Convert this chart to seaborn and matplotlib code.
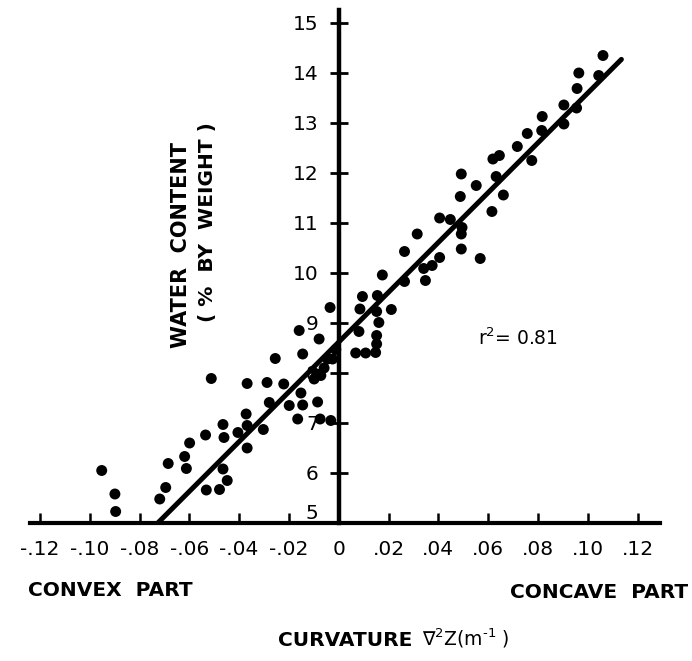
import matplotlib
matplotlib.use("Agg")
import matplotlib.pyplot as plt
import numpy as np
import pandas as pd
import seaborn as sns

# Curvature (m^-1) and water content (% by weight) on the convex side
curv_convex = [
    -0.0952, -0.0899, -0.0896, -0.0719, -0.0695, -0.0685, -0.0619, -0.0612,
    -0.0599, -0.0535, -0.0532, -0.0512, -0.0479, -0.0465, -0.0461, -0.0465,
    -0.0448, -0.0405, -0.0372, -0.0368, -0.0368, -0.0368, -0.0303, -0.0288,
    -0.0279, -0.0255, -0.0221, -0.0199, -0.0165, -0.0152, -0.0145, -0.0145,
    -0.0159, -0.0085, -0.0099, -0.0072, -0.0075, -0.0079, -0.0032, -0.0059,
    -0.0045, -0.0025, -0.0012, -0.0035, -0.0089,
]
water_convex = [
    6.05, 5.58, 5.23, 5.48, 5.71, 6.19, 6.33, 6.09,
    6.60, 6.76, 5.66, 7.89, 5.67, 6.97, 6.71, 6.08,
    5.85, 6.81, 7.18, 7.79, 6.95, 6.50, 6.87, 7.81,
    7.41, 8.29, 7.78, 7.35, 7.08, 7.60, 7.36, 8.38,
    8.85, 7.42, 7.88, 7.95, 7.08, 8.68, 7.05, 8.10,
    8.28, 8.28, 8.47, 9.31, 7.98,
]

# Same quantities on the concave side
curv_concave = [
    0.0068, 0.0108, 0.0081, 0.0085, 0.0095, 0.0155, 0.0152, 0.0161,
    0.0152, 0.0152, 0.0148, 0.0175, 0.0211, 0.0264, 0.0264, 0.0315,
    0.0348, 0.0341, 0.0375, 0.0405, 0.0405, 0.0448, 0.0495, 0.0492,
    0.0492, 0.0568, 0.0615, 0.0492, 0.0488, 0.0552, 0.0661, 0.0632,
    0.0619, 0.0645, 0.0717, 0.0757, 0.0775, 0.0815, 0.0817, 0.0904,
    0.0904, 0.0955, 0.0957, 0.0964, 0.1044, 0.1061,
]
water_concave = [
    8.40, 8.40, 8.83, 9.28, 9.53, 9.55, 9.23, 9.01,
    8.75, 8.58, 8.41, 9.96, 9.27, 10.43, 9.83, 10.78,
    9.85, 10.09, 10.15, 10.31, 11.10, 11.07, 10.91, 10.78,
    10.48, 10.29, 11.23, 11.98, 11.53, 11.75, 11.56, 11.93,
    12.28, 12.35, 12.53, 12.79, 12.25, 12.85, 13.13, 12.98,
    13.36, 13.30, 13.69, 14.00, 13.95, 14.35,
]

# Least-squares line
fit_slope = 49.8
fit_intercept = 8.62
fit_x = [-0.0725, 0.1135]
r_squared = 0.81

x_ticks = [-0.12, -0.10, -0.08, -0.06, -0.04, -0.02, 0.0,
           0.02, 0.04, 0.06, 0.08, 0.10, 0.12]
x_tick_labels = ["-.12", "-.10", "-.08", "-.06", "-.04", "-.02", "0",
                 ".02", ".04", ".06", ".08", ".10", ".12"]
y_ticks = [5, 6, 7, 8, 9, 10, 11, 12, 13, 14, 15]
y_tick_labels = ["5", "6", "7", "8", "9", "10", "11", "12", "13", "14", "15"]

points = pd.DataFrame({
    "curvature": curv_convex + curv_concave,
    "water": water_convex + water_concave,
})
fit_line = pd.DataFrame({
    "curvature": fit_x,
    "water": [fit_intercept + fit_slope * v for v in fit_x],
})

sns.set_theme(style="white")
plt.rcParams["font.family"] = ["DejaVu Sans"]
plt.rcParams["mathtext.fontset"] = "dejavusans"

W, H = 692, 661
fig = plt.figure(figsize=(W / 100, H / 100), dpi=100)
fig.patch.set_facecolor("white")
ax = fig.add_axes([30 / W, 138 / H, 630 / W, 513 / H])
ax.set_facecolor("white")

sns.lineplot(data=fit_line, x="curvature", y="water", color="black",
             linewidth=3.6, ax=ax, zorder=2, solid_capstyle="round")
sns.scatterplot(data=points, x="curvature", y="water", color="black",
                s=62, edgecolor="none", linewidth=0, ax=ax, zorder=4,
                legend=False)

ax.set_xlim(-0.124, 0.129)
ax.set_ylim(5.0, 15.26)

for side in ("top", "right"):
    ax.spines[side].set_visible(False)
ax.spines["left"].set_position(("data", 0))
ax.spines["left"].set_linewidth(3.2)
ax.spines["bottom"].set_linewidth(3.0)
ax.spines["left"].set_color("black")
ax.spines["bottom"].set_color("black")
ax.spines["left"].set_zorder(3)
ax.spines["bottom"].set_zorder(3)

ax.set_xticks(x_ticks, x_tick_labels)
ax.set_yticks(y_ticks, y_tick_labels)
ax.tick_params(axis="x", direction="in", length=7, width=1.8, pad=12,
               labelsize=14.5, colors="black", bottom=True)
ax.tick_params(axis="y", direction="inout", length=13, width=2.0, pad=8,
               labelsize=14.5, colors="black", left=True)
ax.get_yticklabels()[0].set_va("bottom")
ax.set_xlabel("")
ax.set_ylabel("")
ax.grid(False)


def fig_text(px, py, s, **kw):
    fig.text(px / W, 1 - py / H, s, color="black", **kw)


fig_text(28, 591, "CONVEX  PART", ha="left", va="center",
         fontsize=14.5, fontweight="bold")
fig_text(688, 592, "CONCAVE  PART", ha="right", va="center",
         fontsize=14.5, fontweight="bold")
fig_text(278, 641, "CURVATURE", ha="left", va="center",
         fontsize=14.5, fontweight="bold")
fig_text(422, 638, r"$\nabla^{2}$Z(m$^{\text{-}1}$ )", ha="left",
         va="center", fontsize=13.5)
fig_text(181, 245, "WATER  CONTENT", ha="center", va="center",
         rotation=90, fontsize=15, fontweight="bold")
fig_text(207, 222, "( %  BY  WEIGHT )", ha="center", va="center",
         rotation=90, fontsize=14.5, fontweight="bold")
fig_text(478, 338, r"r$^{2}$= " + f"{r_squared:.2f}", ha="left",
         va="center", fontsize=13.5)

fig.savefig("out.png", dpi=100, facecolor="white")
